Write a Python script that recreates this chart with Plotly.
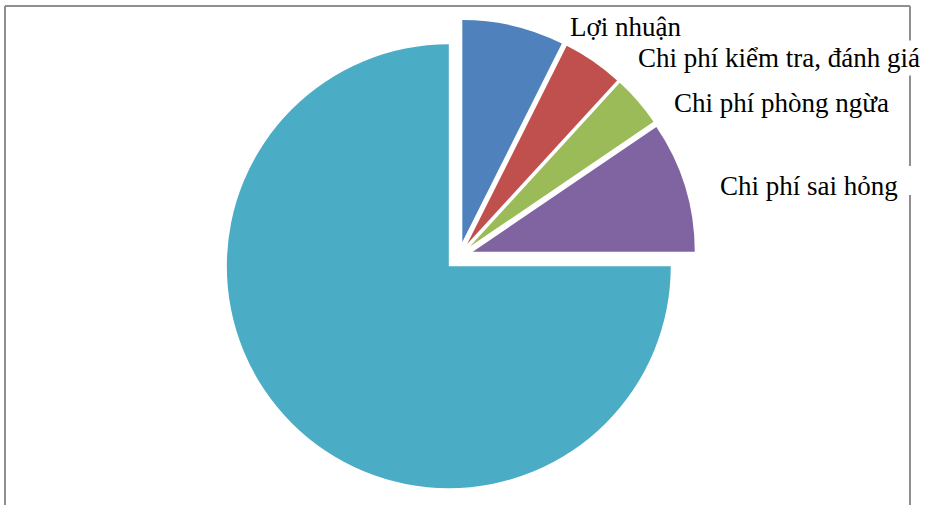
import plotly.graph_objects as go

W, H = 926, 505

labels = ["Lợi nhuận", "Chi phí kiểm tra, đánh giá", "Chi phí phòng ngừa", "Chi phí sai hỏng", "Chi phí khác"]
values = [7.4, 4.4, 3.7, 9.5, 75.0]
colors = ["#4F81BD", "#C0504D", "#9BBB59", "#8064A2", "#4BACC6"]
shown_labels = labels[:4]
# label centres in pixels (text placement)
label_px = [(626, 27), (779, 58), (781, 103), (809, 186)]

fig = go.Figure(go.Pie(
    labels=labels,
    values=values,
    sort=False,
    direction="clockwise",
    rotation=0,
    pull=[0.065] * 5,
    marker=dict(colors=colors, line=dict(width=0)),
    textinfo="none",
    hoverinfo="label+percent",
    domain=dict(x=[222.5 / W, 695.5 / W], y=[1 - 492.4 / H, 1 - 19.6 / H]),
    showlegend=False,
))

border = dict(color="#8f8f8f", width=2)
shapes = [
    dict(type="line", xref="paper", yref="paper", x0=5 / W, x1=910 / W, y0=1 - 6 / H, y1=1 - 6 / H,
         line=border, layer="below"),
    dict(type="line", xref="paper", yref="paper", x0=5 / W, x1=5 / W, y0=1 - 6 / H, y1=-0.05,
         line=border, layer="below"),
    dict(type="line", xref="paper", yref="paper", x0=910 / W, x1=910 / W, y0=1 - 6 / H, y1=1 - 166 / H,
         line=border, layer="below"),
    dict(type="line", xref="paper", yref="paper", x0=910 / W, x1=910 / W, y0=1 - 195 / H, y1=-0.05,
         line=border, layer="below"),
]

annotations = []
for txt, (px, py) in zip(shown_labels, label_px):
    annotations.append(dict(
        text=txt, x=px / W, y=1 - py / H, xref="paper", yref="paper",
        xanchor="center", yanchor="middle", showarrow=False,
        font=dict(family="Liberation Serif, Times New Roman, serif", size=27, color="#000000"),
        bgcolor="#FFFFFF", borderpad=2,
    ))

fig.update_layout(
    width=W, height=H,
    margin=dict(l=0, r=0, t=0, b=0),
    paper_bgcolor="#FFFFFF",
    plot_bgcolor="#FFFFFF",
    shapes=shapes,
    annotations=annotations,
)

fig.write_html(
    "out.html",
    config={"displayModeBar": False},
    post_script="document.body.style.margin='0';document.body.style.overflow='hidden';",
)
